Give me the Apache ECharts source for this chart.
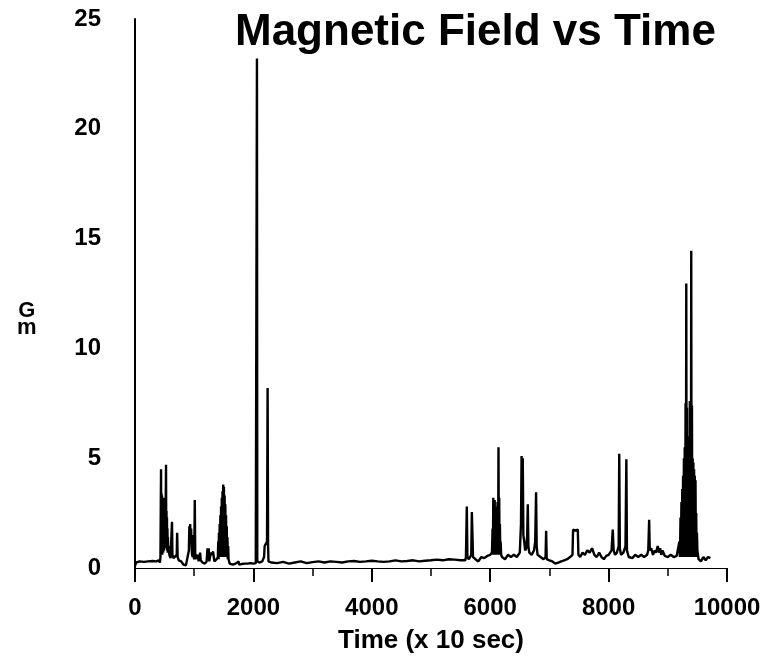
<!DOCTYPE html>
<html>
<head>
<meta charset="utf-8">
<script src="https://cdn.jsdelivr.net/npm/echarts@6/dist/echarts.min.js"></script>
<style>
html,body{margin:0;padding:0;background:#fff;}
#chart{width:767px;height:663px;}
</style>
</head>
<body>
<div id="chart"></div>
<script>
// Data: time (x 10 sec) and field (Gm)
const times = [
0,20,80,150,220,300,360,400,420,
430,436,440,444,448,452,456,460,464,468,472,476,480,484,488,492,496,500,504,508,512,516,520,524,528,532,536,540,544,548,552,556,562,570,580,600,618,625,632,650,680,705,712,720,740,780,820,860,890,
910,918,925,932,940,948,956,965,975,985,992,1000,1010,1018,1040,1060,1075,1100,1110,1140,1180,1210,1225,1235,1245,1255,1280,1300,1320,1340,1380,
1400,1406,1412,1418,1424,1430,1436,1442,1448,1454,1460,1466,1472,1478,1484,1490,1496,1502,1508,1514,1520,1526,1532,1538,1544,1550,1556,1562,1568,1574,1580,
1600,1650,1700,1750,1760,1800,1850,1900,1950,2000,2040,2055,2060,2066,2100,2150,2180,2190,2210,2230,2240,2248,2255,2300,
2400,2500,2600,2700,2800,2900,3000,3100,3200,3300,3400,3500,3600,3700,3800,3900,4000,4100,4200,4300,4400,4500,4600,4700,4800,4900,5000,5100,5200,5300,5400,5500,
5580,5590,5605,5615,5640,5680,5690,5700,5710,5750,5800,5850,5900,5950,6000,6030,
6040,6046,6052,6058,6064,6070,6076,6082,6088,6094,6100,6106,6112,6118,6124,6130,6136,6140,6146,6152,6158,6164,6170,6176,6185,
6200,6250,6300,6350,6400,6450,6500,
6520,6530,6540,6550,6560,6575,6590,6610,6625,6635,6645,6660,6700,6740,6760,6775,6785,6800,6850,6900,6935,6945,6955,7000,7050,7100,7150,7200,7250,7300,7350,7390,
7400,7420,7440,7460,7480,7490,7520,7560,7600,7640,7680,7720,7760,7800,7840,7880,7920,7960,8000,8050,8070,8085,8110,8140,8170,8180,8190,8210,8250,8285,8300,8310,8340,
8400,8450,8500,8550,8600,8650,8670,8685,8695,8720,8750,8780,8800,8830,8850,8870,8890,8910,8950,9000,9050,9100,9150,9180,
9195,9205,9215,9222,9230,9237,9244,9251,9258,9265,9272,9279,9286,9293,9300,9306,9312,9318,9324,9330,9336,9342,9348,9354,9360,9366,9372,9378,9384,9390,9396,9402,9408,9414,9420,9426,9432,9438,9444,9450,9456,9462,9468,9474,9480,9486,9492,9500,
9520,9560,9600,9640,9680,9720
];
const field = [
0.1,0.25,0.3,0.28,0.3,0.32,0.3,0.35,0.25,
0.5,3.0,4.5,0.6,3.4,0.8,3.3,0.6,3.1,0.9,3.2,0.7,3.0,1.0,3.2,0.8,2.9,1.1,3.1,0.9,3.0,1.2,3.3,4.7,1.0,2.6,0.9,2.3,0.8,1.8,0.7,1.4,0.8,1.0,0.6,0.45,0.5,2.1,0.6,0.45,0.5,0.6,1.6,0.5,0.35,0.3,0.15,0.12,0.2,
0.8,1.9,1.2,2.0,1.1,1.8,0.9,0.6,0.5,1.5,0.5,0.4,3.1,0.4,0.5,0.6,0.3,0.7,0.35,0.25,0.2,0.3,0.9,0.5,0.9,0.3,0.7,0.6,0.75,0.3,0.4,
0.5,1.2,0.4,1.6,0.5,2.0,0.6,2.4,0.5,2.8,0.6,3.2,0.5,3.5,0.6,3.8,0.5,3.7,0.6,3.3,0.5,2.9,0.6,2.4,0.5,1.9,0.5,1.4,0.4,1.0,0.4,
0.2,0.15,0.2,0.3,0.15,0.18,0.2,0.2,0.22,0.2,0.22,0.3,23.2,0.3,0.25,0.3,0.5,1.0,1.0,1.2,8.2,1.0,0.3,0.25,
0.22,0.28,0.2,0.25,0.3,0.22,0.27,0.3,0.25,0.3,0.28,0.25,0.3,0.32,0.28,0.3,0.33,0.3,0.28,0.3,0.35,0.3,0.32,0.35,0.3,0.33,0.35,0.38,0.35,0.4,0.38,0.35,
0.35,0.5,2.8,0.5,0.4,0.6,2.55,2.5,0.5,0.4,0.3,0.5,0.45,0.55,0.6,0.7,
1.8,0.6,3.2,0.7,2.6,0.6,3.1,0.7,2.5,0.6,2.8,0.7,2.6,0.6,3.0,0.7,2.4,5.5,0.8,3.2,0.6,2.0,0.6,1.2,0.6,
0.5,0.4,0.6,0.5,0.6,0.5,0.7,
2.0,5.1,3.0,5.0,1.5,1.2,0.8,0.9,1.5,2.9,1.0,0.7,0.6,0.8,1.2,3.45,1.0,0.6,0.5,0.4,0.5,1.7,0.4,0.35,0.3,0.2,0.25,0.3,0.35,0.4,0.5,0.6,
1.75,1.75,1.7,1.75,1.75,0.6,0.5,0.7,0.6,0.8,0.7,0.9,0.6,0.5,0.7,0.5,0.4,0.55,0.6,0.8,1.75,0.8,0.6,0.7,1.0,5.2,0.9,0.6,0.7,1.0,4.95,0.8,0.5,
0.45,0.6,0.5,0.6,0.5,0.6,0.8,2.2,0.8,0.9,0.6,0.8,0.7,1.0,0.7,0.9,0.6,0.8,0.55,0.5,0.6,0.5,0.55,0.6,
1.2,0.5,2.3,0.5,3.0,0.5,3.6,0.6,4.2,0.5,5.0,0.6,5.5,0.5,7.5,0.6,12.95,0.5,7.3,0.6,5.8,0.5,6.0,0.6,5.2,0.5,7.6,0.6,6.0,0.5,14.45,0.6,7.4,0.5,5.0,0.6,4.8,0.5,4.5,0.6,4.2,0.5,4.0,0.6,2.5,0.5,1.6,0.8,
0.4,0.3,0.5,0.35,0.5,0.45
];
const xTicks = [0, 2000, 4000, 6000, 8000, 10000];
const yTicks = [0, 5, 10, 15, 20, 25];
const titleText = 'Magnetic Field vs Time';
const xName = 'Time (x 10 sec)';
const yName = 'G\nm';

const points = times.map((t, i) => [t, field[i]]);
const FONT = '"Liberation Sans", Arial, sans-serif';

const chart = echarts.init(document.getElementById('chart'), null, {renderer: 'canvas'});
chart.setOption({
  animation: false,
  backgroundColor: '#fff',
  title: {
    text: titleText,
    left: 230,
    top: 6,
    textStyle: {fontFamily: FONT, fontSize: 44, fontWeight: 'bold', color: '#000'}
  },
  grid: {left: 135, right: 40, top: 19, bottom: 95},
  xAxis: {
    type: 'value',
    min: xTicks[0], max: xTicks[xTicks.length - 1], interval: 2000,
    name: xName, nameLocation: 'middle', nameGap: 60,
    nameTextStyle: {fontFamily: FONT, fontSize: 26, fontWeight: 'bold', color: '#000'},
    axisLine: {show: true, lineStyle: {color: '#000', width: 1.2}},
    axisTick: {show: true, length: 14, lineStyle: {color: '#000', width: 2}},
    minorTick: {show: true, splitNumber: 2, length: 8, lineStyle: {color: '#000', width: 1.5}},
    splitLine: {show: false},
    axisLabel: {margin: 28, fontFamily: FONT, fontSize: 24, fontWeight: 'bold', color: '#000',
      formatter: v => String(v)}
  },
  yAxis: {
    type: 'value',
    min: yTicks[0], max: yTicks[yTicks.length - 1], interval: 5,
    axisLine: {show: true, lineStyle: {color: '#000', width: 2}},
    axisTick: {show: false},
    splitLine: {show: false},
    axisLabel: {margin: 34, fontFamily: FONT, fontSize: 24, fontWeight: 'bold', color: '#000',
      formatter: v => String(v)}
  },
  graphic: [{
    type: 'text', left: 17, top: 300,
    style: {text: yName, fontFamily: FONT, fontSize: 22, fontWeight: 'bold', fill: '#000', textAlign: 'center', lineHeight: 17}
  }],
  series: [{
    type: 'line',
    data: points,
    showSymbol: false,
    lineStyle: {color: '#000', width: 2.4},
    itemStyle: {color: '#000'}
  }]
});
</script>
</body>
</html>
